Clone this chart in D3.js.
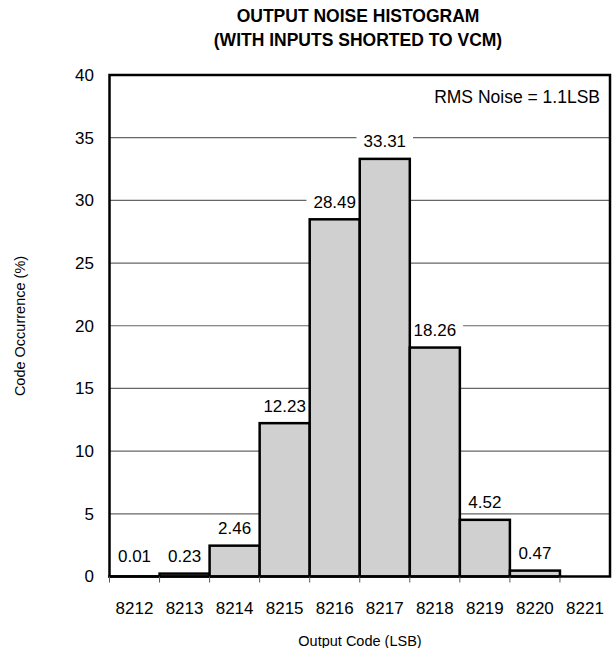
<!DOCTYPE html>
<html><head><meta charset="utf-8">
<script src="https://cdn.jsdelivr.net/npm/d3@7"></script>
<style>body{margin:0;background:#fff}svg{display:block;font-family:"Liberation Sans",Arial,sans-serif}</style>
</head><body>
<svg id="c" width="613" height="648"></svg>
<script>
const codes = ["8212","8213","8214","8215","8216","8217","8218","8219","8220","8221"];
const occurrence = [0.01,0.23,2.46,12.23,28.49,33.31,18.26,4.52,0.47,null];
const yTicks = [0,5,10,15,20,25,30,35,40];
const titleLines = ["OUTPUT NOISE HISTOGRAM","(WITH INPUTS SHORTED TO VCM)"];
const note = "RMS Noise = 1.1LSB";

const svg = d3.select("#c");
const L=109.5, R=610, T=75, B=576.5;
const x = d3.scaleBand().domain(codes).range([L,R]).padding(0);
const y = d3.scaleLinear().domain([0,40]).range([B,T]);

// titles
svg.selectAll("text.title").data(titleLines).enter().append("text")
  .attr("x",358).attr("y",(d,i)=>22+i*24).attr("text-anchor","middle")
  .attr("font-weight","bold").attr("font-size",17.5).text(d=>d);

// gridlines
svg.append("g").selectAll("line").data(yTicks.filter(t=>t>0&&t<40)).enter().append("line")
  .attr("x1",L).attr("x2",R).attr("y1",d=>y(d)).attr("y2",d=>y(d))
  .attr("stroke","#666").attr("stroke-width",1.2);

const data = codes.map((c,i)=>({c,v:occurrence[i]})).filter(d=>d.v!=null);
const labY = d=>Math.min(y(d.v),y(0.23))-17.5;

const boxG = svg.append("g");
const barG = svg.append("g");
const txtG = svg.append("g");
txtG.selectAll("text").data(data).enter().append("text")
  .attr("x",d=>x(d.c)+x.bandwidth()/2).attr("y",labY)
  .attr("dy","0.35em").attr("text-anchor","middle").attr("font-size",17)
  .text(d=>d.v.toFixed(2))
  .each(function(){
    const bb=this.getBBox();
    boxG.append("rect").attr("x",bb.x-7).attr("width",bb.width+14)
      .attr("y",bb.y+2).attr("height",bb.height-4).attr("fill","#fff");
  });

barG.selectAll("rect").data(data).enter().append("rect")
  .attr("x",d=>x(d.c)).attr("width",x.bandwidth())
  .attr("y",d=>y(d.v)).attr("height",d=>B-y(d.v))
  .attr("fill","#d0d0d0").attr("stroke","#000").attr("stroke-width",2.5);

svg.append("rect").attr("x",L).attr("y",T).attr("width",R-L).attr("height",B-T)
  .attr("fill","none").attr("stroke","#000").attr("stroke-width",2.5);

const xa = svg.append("g");
xa.selectAll("line").data(codes).enter().append("line")
  .attr("x1",d=>x(d)).attr("x2",d=>x(d)).attr("y1",B).attr("y2",B+6)
  .attr("stroke","#555").attr("stroke-width",1);
xa.selectAll("text").data(codes).enter().append("text")
  .attr("x",d=>x(d)+x.bandwidth()/2).attr("y",608).attr("dy","0.35em").attr("text-anchor","middle")
  .attr("font-size",17).text(d=>d);

svg.append("g").selectAll("text").data(yTicks).enter().append("text")
  .attr("x",94).attr("y",d=>y(d)).attr("dy","0.35em").attr("text-anchor","end")
  .attr("font-size",17).text(d=>d);

svg.append("text").attr("x",600).attr("y",97).attr("dy","0.35em").attr("text-anchor","end")
  .attr("font-size",17.5).text(note);

svg.append("text").attr("x",360).attr("y",641).attr("dy","0.35em").attr("text-anchor","middle")
  .attr("font-size",14.5).text("Output Code (LSB)");
svg.append("text").attr("transform","translate(20,326) rotate(-90)").attr("dy","0.35em")
  .attr("text-anchor","middle").attr("font-size",14.5).text("Code Occurrence (%)");
</script>
</body></html>
